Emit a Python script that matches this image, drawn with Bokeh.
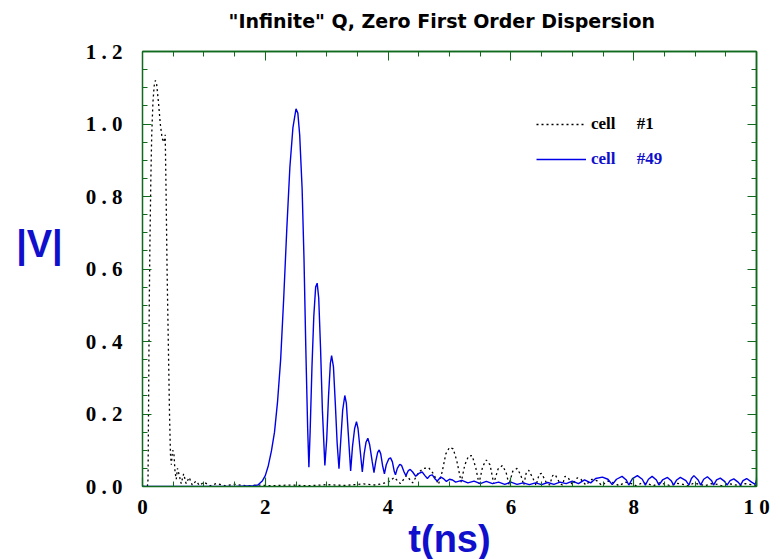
from bokeh.plotting import figure
from bokeh.models import (Range1d, FixedTicker, LinearAxis, Legend,
                          LegendItem, ColumnDataSource)
from bokeh.embed import file_html
from bokeh.resources import INLINE

# ---------------- data ----------------
cell1_t = [0.00, 0.08, 0.09, 0.10, 0.11, 0.12, 0.135, 0.15, 0.17, 0.19, 0.21, 0.23,
           0.26, 0.29, 0.32, 0.35, 0.37, 0.385, 0.40, 0.42, 0.44, 0.455, 0.47, 0.49,
           0.51, 0.53, 0.55, 0.57, 0.60, 0.63, 0.67, 0.71, 0.76, 0.81, 0.87, 0.93,
           1.00, 1.10, 1.20, 1.35, 1.50, 1.70, 1.90, 2.10, 2.40, 2.70, 3.00, 3.30,
           3.60, 3.80, 4.00, 4.10, 4.20, 4.30, 4.40, 4.50, 4.58, 4.66, 4.74, 4.82,
           4.88, 4.94, 5.00, 5.06, 5.12, 5.19, 5.25, 5.31, 5.37, 5.43, 5.48, 5.54,
           5.60, 5.66, 5.72, 5.79, 5.86, 5.92, 5.97, 6.03, 6.10, 6.16, 6.21, 6.25,
           6.29, 6.36, 6.41, 6.46, 6.50, 6.58, 6.63, 6.68, 6.72, 6.80, 6.84, 6.88,
           6.93, 7.00, 7.08, 7.14, 7.22, 7.32, 7.40, 7.48, 7.58, 7.68, 7.76, 7.86,
           7.96, 8.04, 8.14, 8.24, 8.32, 8.42, 8.52, 8.60, 8.70, 8.80, 8.88, 8.98,
           9.08, 9.16, 9.26, 9.36, 9.44, 9.54, 9.64, 9.72, 9.82, 9.92, 10.00]
cell1_v = [0.000, 0.000, 0.020, 0.250, 0.500, 0.660, 0.840, 0.970, 1.060, 1.105, 1.120, 1.110,
           1.060, 1.000, 0.960, 0.950, 0.970, 0.800, 0.600, 0.400, 0.200, 0.090, 0.060, 0.100,
           0.095, 0.040, 0.020, 0.050, 0.030, 0.008, 0.035, 0.008, 0.025, 0.004, 0.015, 0.003,
           0.012, 0.002, 0.008, 0.002, 0.006, 0.002, 0.004, 0.002, 0.004, 0.002, 0.005, 0.003,
           0.007, 0.004, 0.012, 0.025, 0.008, 0.030, 0.010, 0.040, 0.050, 0.052, 0.035, 0.006,
           0.040, 0.090, 0.108, 0.104, 0.070, 0.012, 0.060, 0.084, 0.085, 0.050, 0.008, 0.055,
           0.073, 0.060, 0.008, 0.048, 0.058, 0.040, 0.005, 0.042, 0.050, 0.032, 0.004, 0.038,
           0.045, 0.022, 0.003, 0.034, 0.036, 0.010, 0.004, 0.030, 0.033, 0.008, 0.004, 0.028,
           0.025, 0.005, 0.024, 0.020, 0.004, 0.020, 0.016, 0.003, 0.015, 0.010, 0.002, 0.012,
           0.008, 0.002, 0.010, 0.007, 0.002, 0.010, 0.006, 0.002, 0.009, 0.006, 0.002, 0.009,
           0.006, 0.002, 0.008, 0.006, 0.002, 0.008, 0.005, 0.002, 0.008, 0.005, 0.003]

cell49_t = [0.00, 1.00, 1.50, 1.80, 1.88, 1.95, 2.00, 2.05, 2.10, 2.15, 2.20, 2.25,
            2.30, 2.35, 2.40, 2.45, 2.50, 2.53, 2.56, 2.60, 2.63, 2.66, 2.69, 2.71,
            2.73, 2.76, 2.79, 2.82, 2.845, 2.87, 2.90, 2.93, 2.97, 3.00, 3.03, 3.06,
            3.08, 3.11, 3.14, 3.17, 3.20, 3.23, 3.26, 3.295, 3.32, 3.35, 3.39, 3.42,
            3.455, 3.485, 3.51, 3.545, 3.58, 3.61, 3.64, 3.67, 3.70, 3.74, 3.77, 3.80,
            3.83, 3.855, 3.88, 3.91, 3.94, 3.97, 4.01, 4.04, 4.07, 4.10, 4.12, 4.15,
            4.19, 4.22, 4.26, 4.29, 4.33, 4.36, 4.40, 4.45, 4.50, 4.555, 4.60, 4.64,
            4.68, 4.72, 4.77, 4.80, 4.86, 4.90, 4.95, 5.00, 5.05, 5.10, 5.20, 5.30,
            5.40, 5.50, 5.60, 5.70, 5.80, 5.90, 6.00, 6.10, 6.20, 6.30, 6.40, 6.50,
            6.60, 6.70, 6.80, 6.90, 7.00, 7.10, 7.20, 7.30, 7.38, 7.49, 7.58, 7.65,
            7.72, 7.81, 7.88, 7.92, 7.98, 8.06, 8.14, 8.19, 8.24, 8.30, 8.37, 8.41,
            8.47, 8.55, 8.61, 8.65, 8.70, 8.76, 8.85, 8.90, 8.94, 8.98, 9.05, 9.09,
            9.14, 9.20, 9.27, 9.30, 9.35, 9.41, 9.48, 9.52, 9.57, 9.63, 9.70, 9.74,
            9.78, 9.84, 9.92, 9.98, 10.00]
cell49_v = [0.000, 0.000, 0.000, 0.002, 0.004, 0.015, 0.030, 0.058, 0.098, 0.150, 0.235, 0.350,
            0.520, 0.710, 0.880, 0.990, 1.042, 1.030, 0.970, 0.820, 0.630, 0.380, 0.160, 0.053,
            0.150, 0.330, 0.470, 0.550, 0.561, 0.520, 0.380, 0.210, 0.058, 0.130, 0.250, 0.340,
            0.361, 0.330, 0.230, 0.120, 0.049, 0.130, 0.210, 0.251, 0.230, 0.150, 0.043, 0.110,
            0.160, 0.179, 0.160, 0.100, 0.040, 0.090, 0.122, 0.133, 0.115, 0.070, 0.038, 0.070,
            0.094, 0.101, 0.090, 0.058, 0.035, 0.060, 0.076, 0.079, 0.068, 0.042, 0.032, 0.050,
            0.061, 0.058, 0.040, 0.030, 0.044, 0.047, 0.040, 0.028, 0.036, 0.040, 0.030, 0.022,
            0.030, 0.032, 0.020, 0.015, 0.026, 0.022, 0.014, 0.020, 0.018, 0.012, 0.017, 0.010,
            0.015, 0.008, 0.014, 0.008, 0.012, 0.006, 0.012, 0.006, 0.010, 0.005, 0.010, 0.005,
            0.011, 0.006, 0.012, 0.008, 0.015, 0.008, 0.018, 0.010, 0.022, 0.026, 0.020, 0.005,
            0.020, 0.028, 0.018, 0.004, 0.022, 0.030, 0.020, 0.004, 0.020, 0.028, 0.018, 0.004,
            0.018, 0.025, 0.016, 0.004, 0.018, 0.025, 0.016, 0.004, 0.022, 0.030, 0.018, 0.004,
            0.020, 0.027, 0.016, 0.004, 0.018, 0.023, 0.014, 0.004, 0.016, 0.021, 0.012, 0.004,
            0.016, 0.022, 0.012, 0.006, 0.018]

series_labels = ["cell\u00a0\u00a0\u00a0\u00a0\u00a0#1", "cell\u00a0\u00a0\u00a0\u00a0\u00a0#49"]

x_ticks = [0, 2, 4, 6, 8, 10]
x_tick_labels = ["0", "2", "4", "6", "8", "1 0"]
y_ticks = [0.0, 0.2, 0.4, 0.6, 0.8, 1.0, 1.2]
y_tick_labels = ["0 . 0", "0 . 2", "0 . 4", "0 . 6", "0 . 8", "1 . 0", "1 . 2"]
x_minor = [i * 0.5 for i in range(21)]
y_minor = [i * 0.05 for i in range(25)]

title_text = '"Infinite" Q, Zero First Order Dispersion'
x_label = "t(ns)"
y_label = "|V|\n\u00a0"

# ---------------- styles ----------------
GREEN = "#0f6a1e"
BLUE_LINE = "#0000e8"
BLUE_TEXT = "#1010cc"

p = figure(frame_width=614, frame_height=435,
           min_border_left=142, min_border_right=22,
           min_border_top=51, min_border_bottom=72,
           x_range=Range1d(0, 10), y_range=Range1d(0, 1.2),
           output_backend="svg", toolbar_location=None,
           background_fill_color="white", border_fill_color="white")
p.grid.visible = False
p.outline_line_color = None

p.title.text = title_text
p.title.align = "left"
p.title.offset = 86
p.title.text_font = "DejaVu Sans"
p.title.text_font_style = "bold"
p.title.text_font_size = "19px"
p.title.text_color = "black"
p.title.standoff = 8

src1 = ColumnDataSource(dict(t=cell1_t, v=cell1_v))
src49 = ColumnDataSource(dict(t=cell49_t, v=cell49_v))
r1 = p.line("t", "v", source=src1, line_color="black", line_width=1.3, line_dash="2 3")
r49 = p.line("t", "v", source=src49, line_color=BLUE_LINE, line_width=1.4)


def style_ticks(ax, major_len, minor_len):
    ax.axis_line_color = GREEN
    ax.axis_line_width = 1.5
    ax.major_tick_line_color = GREEN
    ax.minor_tick_line_color = GREEN
    ax.major_tick_in = major_len
    ax.major_tick_out = 0
    ax.minor_tick_in = minor_len
    ax.minor_tick_out = 0
    ax.major_tick_line_width = 1.2
    ax.minor_tick_line_width = 1.0


def style_labels(ax, overrides, standoff):
    ax.major_label_overrides = overrides
    ax.major_label_text_font = "Liberation Serif"
    ax.major_label_text_font_style = "bold"
    ax.major_label_text_font_size = "21px"
    ax.major_label_text_color = "black"
    ax.major_label_standoff = standoff
    ax.axis_label_text_font = "Liberation Sans"
    ax.axis_label_text_font_style = "bold"
    ax.axis_label_text_font_size = "38px"
    ax.axis_label_text_color = BLUE_TEXT


xa = p.xaxis[0]
xa.ticker = FixedTicker(ticks=x_ticks, minor_ticks=x_minor)
style_ticks(xa, 9, 5)
style_labels(xa, dict(zip(x_ticks, x_tick_labels)), 8)
xa.axis_label = x_label
xa.axis_label_standoff = -4

ya = p.yaxis[0]
ya.ticker = FixedTicker(ticks=y_ticks, minor_ticks=y_minor)
style_ticks(ya, 9, 5)
style_labels(ya, dict(zip(y_ticks, y_tick_labels)), 20)
ya.axis_label = y_label
ya.axis_label_orientation = "horizontal"
ya.axis_label_standoff = 20

# frame ticks on the top and right edges (no labels)
for side, minor, major in [("above", x_minor, x_ticks), ("right", y_minor, y_ticks)]:
    a1 = LinearAxis(ticker=FixedTicker(ticks=[], minor_ticks=minor))
    style_ticks(a1, 9, 5)
    a1.major_label_standoff = 0
    p.add_layout(a1, side)
    a2 = LinearAxis(ticker=FixedTicker(ticks=[], minor_ticks=major))
    style_ticks(a2, 9, 9)
    a2.major_label_standoff = 0
    p.add_layout(a2, side)

# invisible spacer between the top edge and the title
spacer = LinearAxis(ticker=FixedTicker(ticks=[], minor_ticks=x_ticks),
                    axis_line_color=None, major_tick_line_color=None,
                    minor_tick_line_color=None, major_tick_in=0, major_tick_out=16,
                    minor_tick_in=0, minor_tick_out=16, major_label_standoff=0)
p.add_layout(spacer, "above")

# legends (one per entry, to colour each label like its line)
for r, lab, col, loc in [(r1, series_labels[0], "black", (394, 352)),
                         (r49, series_labels[1], BLUE_TEXT, (394, 317))]:
    leg = Legend(items=[LegendItem(label=lab, renderers=[r])], location=loc,
                 glyph_width=50, glyph_height=20, label_standoff=5,
                 label_text_font="Liberation Serif", label_text_font_style="bold",
                 label_text_font_size="17px", label_text_color=col,
                 padding=0, margin=0, border_line_alpha=0, background_fill_alpha=0,
                 label_height=20)
    p.add_layout(leg)

open("out.html", "w").write(file_html(p, INLINE))
